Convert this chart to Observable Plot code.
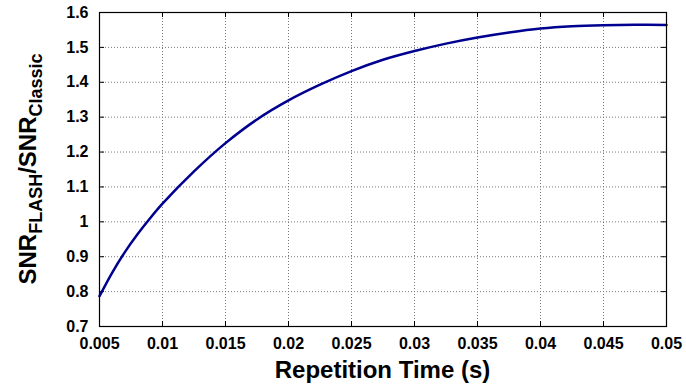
<!DOCTYPE html>
<html>
<head>
<meta charset="utf-8">
<script src="https://cdn.jsdelivr.net/npm/d3@7"></script>
<script src="https://cdn.jsdelivr.net/npm/@observablehq/plot@0.6"></script>
<style>
  html, body { margin: 0; padding: 0; background: white; }
  #chart svg { display: block; }
</style>
</head>
<body>
<div id="chart"></div>
<script>
// Repetition time (s)
const repetitionTime = [0.005, 0.006, 0.007, 0.008, 0.009, 0.01, 0.0125, 0.015, 0.0175, 0.02, 0.0225, 0.025, 0.0275, 0.03, 0.0325, 0.035, 0.0375, 0.04, 0.0425, 0.045, 0.0475, 0.05];
// SNR ratio FLASH / Classic
const snrRatio = [0.787, 0.854, 0.9125, 0.9635, 1.0095, 1.052, 1.1445, 1.2255, 1.2935, 1.348, 1.393, 1.432, 1.4645, 1.4895, 1.5108, 1.5283, 1.5428, 1.5543, 1.5608, 1.5638, 1.565, 1.5645];

const xTicks = [0.005, 0.01, 0.015, 0.02, 0.025, 0.03, 0.035, 0.04, 0.045, 0.05];
const xTickLabels = ["0.005", "0.01", "0.015", "0.02", "0.025", "0.03", "0.035", "0.04", "0.045", "0.05"];
const yTicks = [0.7, 0.8, 0.9, 1.0, 1.1, 1.2, 1.3, 1.4, 1.5, 1.6];
const yTickLabels = ["0.7", "0.8", "0.9", "1", "1.1", "1.2", "1.3", "1.4", "1.5", "1.6"];

const xTitle = "Repetition Time (s)";

const data = repetitionTime.map((t, i) => ({t, r: snrRatio[i]}));

const W = 686, H = 387;
const mL = 99, mR = 20, mT = 12, mB = 61;
const pw = W - mL - mR, ph = H - mT - mB;
const tickLen = 5;

const font = "'Liberation Sans', Arial, Helvetica, sans-serif";

const chart = Plot.plot({
  width: W,
  height: H,
  marginLeft: mL,
  marginRight: mR,
  marginTop: mT,
  marginBottom: mB,
  x: {domain: [0.005, 0.05]},
  y: {domain: [0.7, 1.6]},
  style: {fontFamily: font, fontWeight: "bold", fontSize: "16px", color: "black", background: "white", overflow: "visible"},
  marks: [
    Plot.gridX(xTicks, {stroke: "#7a7a7a", strokeOpacity: 1, strokeWidth: 1, strokeDasharray: "1,2"}),
    Plot.gridY(yTicks, {stroke: "#7a7a7a", strokeOpacity: 1, strokeWidth: 1, strokeDasharray: "1,2"}),
    Plot.ruleX(xTicks, {stroke: "black", insetTop: ph - tickLen}),
    Plot.ruleX(xTicks, {stroke: "black", insetBottom: ph - tickLen}),
    Plot.ruleY(yTicks, {stroke: "black", insetRight: pw - tickLen}),
    Plot.ruleY(yTicks, {stroke: "black", insetLeft: pw - tickLen}),
    Plot.line(data, {x: "t", y: "r", stroke: "#000090", strokeWidth: 2.5, curve: "catmull-rom"}),
    Plot.frame({stroke: "black", strokeWidth: 1.2}),
    Plot.axisX(xTicks, {tickSize: 0, tickPadding: 11, label: null, fontSize: 16, fontWeight: "bold",
      tickFormat: d => xTickLabels[xTicks.indexOf(d)]}),
    Plot.axisY(yTicks, {tickSize: 0, tickPadding: 11, label: null, fontSize: 16, fontWeight: "bold",
      tickFormat: d => yTickLabels[yTicks.indexOf(d)]})
  ]
});

document.getElementById("chart").appendChild(chart);

const svg = d3.select(chart);

// X axis title
svg.append("text")
  .attr("x", mL + pw / 2)
  .attr("y", 378)
  .attr("text-anchor", "middle")
  .attr("font-family", font)
  .attr("font-weight", "bold")
  .attr("font-size", 24)
  .attr("fill", "black")
  .text(xTitle);

// Y axis title with subscripts
const yt = svg.append("text")
  .attr("transform", `translate(36,${mT + ph / 2}) rotate(-90)`)
  .attr("text-anchor", "middle")
  .attr("font-family", font)
  .attr("font-weight", "bold")
  .attr("font-size", 24)
  .attr("fill", "black");
yt.append("tspan").text("SNR");
yt.append("tspan").attr("dy", 6).attr("font-size", 18).text("FLASH");
yt.append("tspan").attr("dy", -6).text("/SNR");
yt.append("tspan").attr("dy", 6).attr("font-size", 18).text("Classic");
</script>
</body>
</html>
